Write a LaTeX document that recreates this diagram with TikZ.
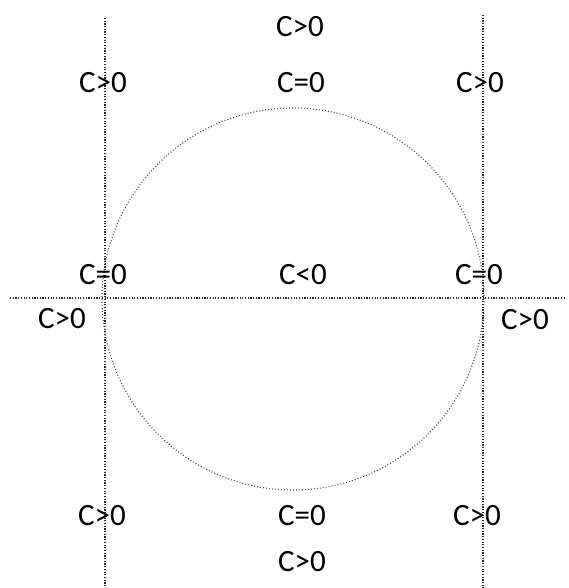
\documentclass[tikz,border=0pt]{standalone}
\usepackage{fontspec}
\setmainfont{Carlito}
\begin{document}
\begin{tikzpicture}[x=1pt,y=-1pt,
  lab/.style={font=\fontsize{31}{31}\selectfont, inner sep=0pt, anchor=center},
  axis/.style={draw=black!85, dash pattern=on 1.2pt off 1.5pt, line width=1.1pt},
  ring/.style={draw=black!70, dash pattern=on 1pt off 2pt, line width=1.1pt}]
\useasboundingbox (0,0) rectangle (569,588);
% axes
\coordinate (lt) at (105,18);  \coordinate (lb) at (105,588);
\coordinate (rt) at (483,15);  \coordinate (rb) at (483,588);
\coordinate (hl) at (10,298);  \coordinate (hr) at (566,298);
\coordinate (ctr) at (293,299);
\draw[axis] (lt) -- (lb);
\draw[axis] (rt) -- (rb);
\draw[axis] (hl) -- (hr);
\draw[ring] (ctr) circle[radius=191pt];
% labels
\node[lab] (t1) at (300,27) {C>0};
\node[lab] (t2) at (301,83) {C=0};
\node[lab] (tl) at (103,83) {C>0};
\node[lab] (tr) at (480,83) {C>0};
\node[lab] (ml) at (103,275) {C=0};
\node[lab] (mm) at (303,275) {C<0};
\node[lab] (mr) at (479,275) {C=0};
\node[lab] (ll) at (62,319) {C>0};
\node[lab] (rr) at (525,320) {C>0};
\node[lab] (bl) at (102,516) {C>0};
\node[lab] (b2) at (302,516) {C=0};
\node[lab] (br) at (477,516) {C>0};
\node[lab] (b1) at (302,562) {C>0};
\end{tikzpicture}
\end{document}
